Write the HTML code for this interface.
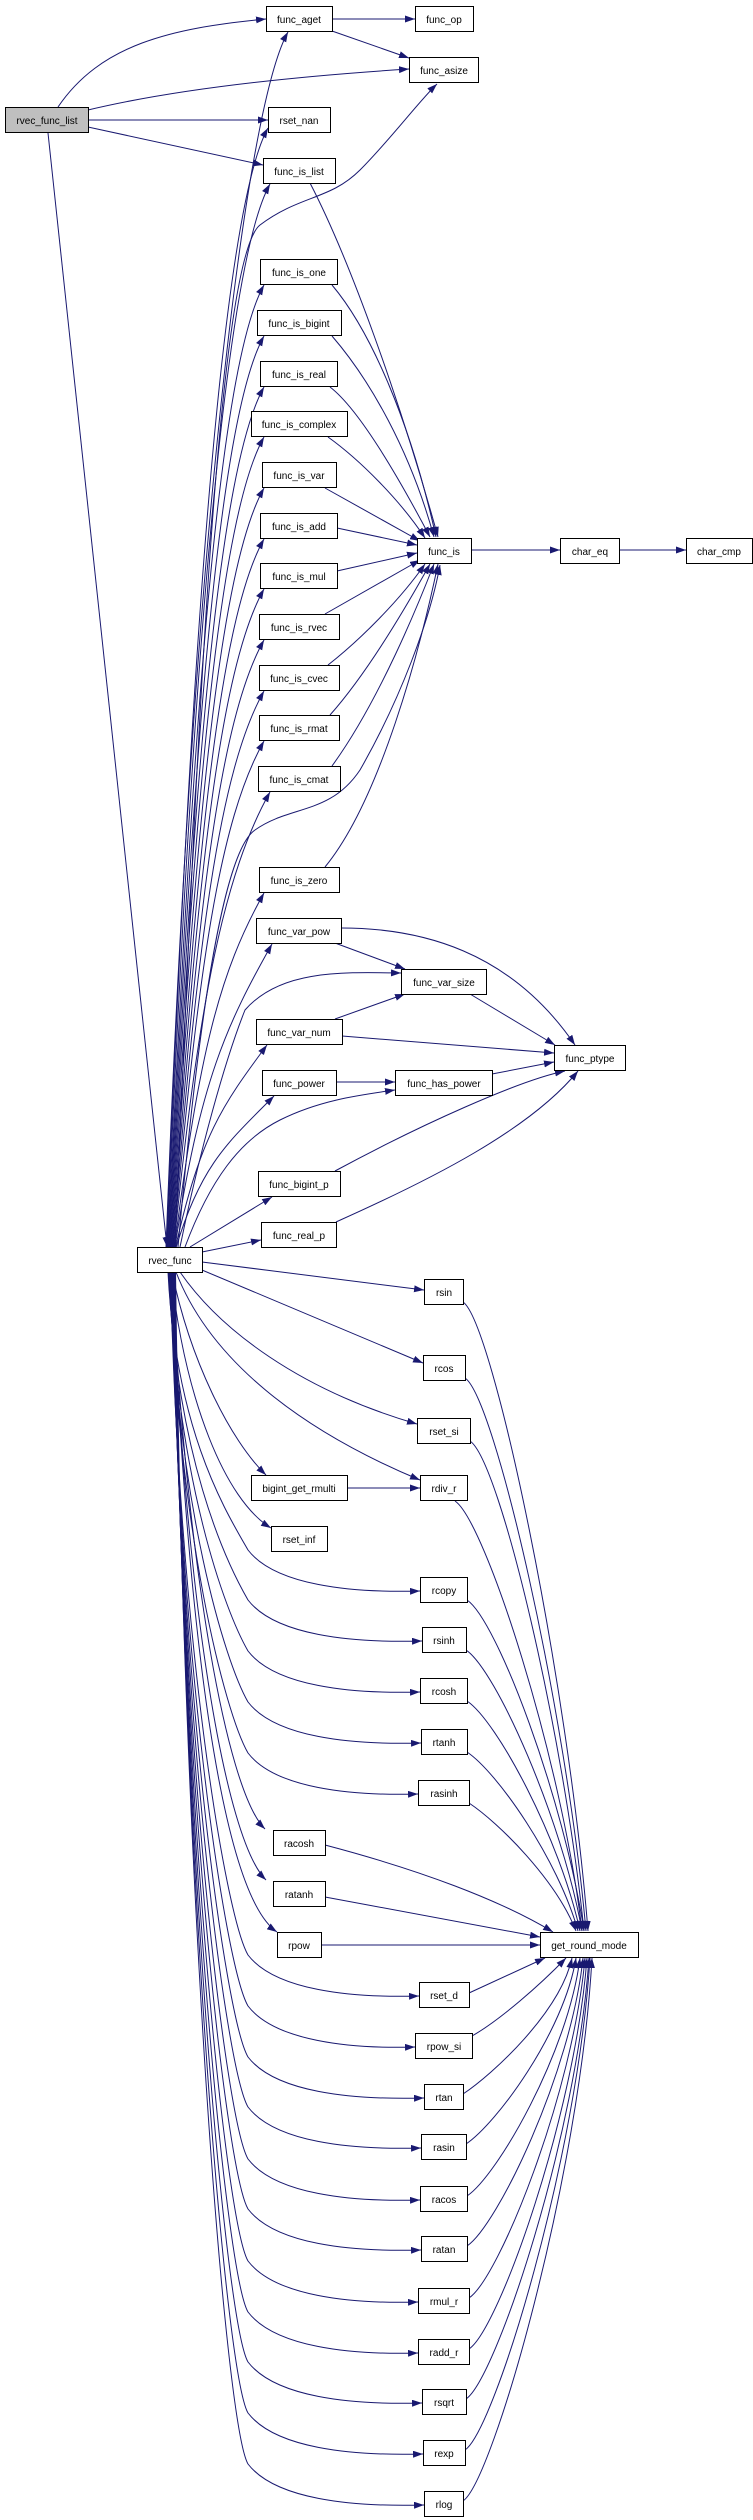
<!DOCTYPE html>
<html><head><meta charset="utf-8">
<style>
html,body{margin:0;padding:0;background:#fff;}
svg{display:block;}
text{font-family:"Liberation Sans",sans-serif;font-size:10px;fill:#000;}
</style></head>
<body>
<svg id="g" width="753" height="2520" viewBox="0 0 753 2520" xmlns="http://www.w3.org/2000/svg">
<defs>
<marker id="a" markerUnits="userSpaceOnUse" markerWidth="11" markerHeight="8" refX="10" refY="3.5" orient="auto">
<path d="M0,0 L10,3.5 L0,7 z" fill="#191970"/>
</marker>
</defs>
<g id="edges" fill="none" stroke="#191970" stroke-width="1"></g>
<g id="nodes" stroke="#000" stroke-width="1" fill="#fff">
<rect x="5.5" y="107.5" width="83" height="25" fill="#bfbfbf"/>
<rect x="266.5" y="6.5" width="66" height="25"/>
<rect x="415.5" y="6.5" width="58" height="25"/>
<rect x="409.5" y="57.5" width="69" height="25"/>
<rect x="268.5" y="107.5" width="62" height="25"/>
<rect x="263.5" y="158.5" width="72" height="25"/>
<rect x="260.5" y="259.5" width="77" height="25"/>
<rect x="257.5" y="310.5" width="84" height="25"/>
<rect x="260.5" y="361.5" width="77" height="25"/>
<rect x="251.5" y="411.5" width="96" height="25"/>
<rect x="262.5" y="462.5" width="74" height="25"/>
<rect x="260.5" y="513.5" width="77" height="25"/>
<rect x="260.5" y="563.5" width="77" height="25"/>
<rect x="259.5" y="614.5" width="80" height="25"/>
<rect x="259.5" y="665.5" width="80" height="25"/>
<rect x="259.5" y="715.5" width="80" height="25"/>
<rect x="258.5" y="766.5" width="82" height="25"/>
<rect x="259.5" y="867.5" width="80" height="25"/>
<rect x="417.5" y="538.5" width="54" height="25"/>
<rect x="560.5" y="538.5" width="59" height="25"/>
<rect x="686.5" y="538.5" width="66" height="25"/>
<rect x="256.5" y="918.5" width="85" height="25"/>
<rect x="401.5" y="969.5" width="85" height="25"/>
<rect x="256.5" y="1019.5" width="86" height="25"/>
<rect x="554.5" y="1045.5" width="71" height="25"/>
<rect x="262.5" y="1070.5" width="74" height="25"/>
<rect x="395.5" y="1070.5" width="97" height="25"/>
<rect x="258.5" y="1171.5" width="82" height="25"/>
<rect x="261.5" y="1222.5" width="75" height="25"/>
<rect x="137.5" y="1247.5" width="65" height="25"/>
<rect x="424.5" y="1279.5" width="39" height="25"/>
<rect x="423.5" y="1355.5" width="42" height="25"/>
<rect x="417.5" y="1418.5" width="53" height="25"/>
<rect x="251.5" y="1475.5" width="96" height="25"/>
<rect x="420.5" y="1475.5" width="47" height="25"/>
<rect x="271.5" y="1526.5" width="56" height="25"/>
<rect x="420.5" y="1577.5" width="47" height="25"/>
<rect x="422.5" y="1627.5" width="44" height="25"/>
<rect x="420.5" y="1678.5" width="47" height="25"/>
<rect x="421.5" y="1729.5" width="46" height="25"/>
<rect x="418.5" y="1780.5" width="51" height="25"/>
<rect x="273.5" y="1830.5" width="52" height="25"/>
<rect x="273.5" y="1881.5" width="52" height="25"/>
<rect x="277.5" y="1932.5" width="44" height="25"/>
<rect x="540.5" y="1932.5" width="98" height="25"/>
<rect x="419.5" y="1982.5" width="50" height="25"/>
<rect x="415.5" y="2033.5" width="57" height="25"/>
<rect x="424.5" y="2084.5" width="39" height="25"/>
<rect x="421.5" y="2134.5" width="45" height="25"/>
<rect x="420.5" y="2186.5" width="47" height="25"/>
<rect x="421.5" y="2236.5" width="46" height="25"/>
<rect x="418.5" y="2288.5" width="51" height="25"/>
<rect x="418.5" y="2339.5" width="51" height="25"/>
<rect x="422.5" y="2389.5" width="44" height="25"/>
<rect x="423.5" y="2440.5" width="42" height="25"/>
<rect x="424.5" y="2491.5" width="39" height="25"/>
</g>
<g text-anchor="middle">
<text x="47" y="124">rvec_func_list</text>
<text x="299" y="23">func_aget</text>
<text x="444" y="23">func_op</text>
<text x="444" y="74">func_asize</text>
<text x="299" y="124">rset_nan</text>
<text x="299" y="175">func_is_list</text>
<text x="299" y="276">func_is_one</text>
<text x="299" y="327">func_is_bigint</text>
<text x="299" y="378">func_is_real</text>
<text x="299" y="428">func_is_complex</text>
<text x="299" y="479">func_is_var</text>
<text x="299" y="530">func_is_add</text>
<text x="299" y="580">func_is_mul</text>
<text x="299" y="631">func_is_rvec</text>
<text x="299" y="682">func_is_cvec</text>
<text x="299" y="732">func_is_rmat</text>
<text x="299" y="783">func_is_cmat</text>
<text x="299" y="884">func_is_zero</text>
<text x="444" y="555">func_is</text>
<text x="590" y="555">char_eq</text>
<text x="719" y="555">char_cmp</text>
<text x="299" y="935">func_var_pow</text>
<text x="444" y="986">func_var_size</text>
<text x="299" y="1036">func_var_num</text>
<text x="590" y="1062">func_ptype</text>
<text x="299" y="1087">func_power</text>
<text x="444" y="1087">func_has_power</text>
<text x="299" y="1188">func_bigint_p</text>
<text x="299" y="1239">func_real_p</text>
<text x="170" y="1264">rvec_func</text>
<text x="444" y="1296">rsin</text>
<text x="444" y="1372">rcos</text>
<text x="444" y="1435">rset_si</text>
<text x="299" y="1492">bigint_get_rmulti</text>
<text x="444" y="1492">rdiv_r</text>
<text x="299" y="1543">rset_inf</text>
<text x="444" y="1594">rcopy</text>
<text x="444" y="1644">rsinh</text>
<text x="444" y="1695">rcosh</text>
<text x="444" y="1746">rtanh</text>
<text x="444" y="1797">rasinh</text>
<text x="299" y="1847">racosh</text>
<text x="299" y="1898">ratanh</text>
<text x="299" y="1949">rpow</text>
<text x="589" y="1949">get_round_mode</text>
<text x="444" y="1999">rset_d</text>
<text x="444" y="2050">rpow_si</text>
<text x="444" y="2101">rtan</text>
<text x="444" y="2151">rasin</text>
<text x="444" y="2203">racos</text>
<text x="444" y="2253">ratan</text>
<text x="444" y="2305">rmul_r</text>
<text x="444" y="2356">radd_r</text>
<text x="444" y="2406">rsqrt</text>
<text x="444" y="2457">rexp</text>
<text x="444" y="2508">rlog</text>
</g>
</svg>
<script>
var E=[];
function p(d){E.push(d);}
p("M58,107 C100,45 170,28 266,19");
p("M88,110 C180,88 300,76 409,69");
p("M88,120 L268,120");
p("M88,127 L263,165");
p("M48,133 L167,1247");
p("M332,19 L415,19");
p("M332,31 L409,58");
var fan=[[288,32],[268,128],[270,184],[264,285],[264,336],[264,387],[264,437],[264,488],[264,539],[264,589],[264,640],[264,691],[264,741],[270,792],[264,893],[272,944],[267,1045],[274,1096]];
fan.forEach(function(e,i){var sx=166+i*0.6;var dy=1247-e[1];
p("M"+sx+",1247 C"+(sx+25)+","+(e[1]+dy*0.45)+" "+(e[0]-45)+","+(e[1]+Math.min(80,dy*0.3))+" "+e[0]+","+e[1]);});
p("M175,1247 C195,800 215,260 260,225 C300,195 330,200 360,170 C390,140 420,100 437,84");
p("M178,1247 C200,1000 225,850 255,830 C290,805 330,815 360,770 C400,700 430,620 440,565");
p("M180,1247 C200,1150 225,1060 245,1010 C280,970 340,972 401,973");
p("M185,1247 C210,1180 240,1140 280,1120 C320,1100 360,1095 395,1090");
p("M190,1247 L272,1197");
p("M202,1252 L261,1240");
p("M310,183 C350,260 400,400 438,537");
p("M332,285 C370,330 410,420 436,537");
p("M332,336 C370,380 410,450 434,537");
p("M330,387 C360,410 400,480 430,537");
p("M328,437 C360,460 400,500 425,538");
p("M325,488 L420,541");
p("M337,528 L417,545");
p("M337,571 L417,553");
p("M325,614 L420,560");
p("M328,665 C360,640 400,600 425,564");
p("M330,715 C370,670 410,600 430,564");
p("M332,766 C380,700 420,600 434,564");
p("M325,867 C380,800 420,650 438,564");
p("M471,550 L560,550");
p("M619,550 L686,550");
p("M335,943 L405,969");
p("M341,928 C420,928 510,950 575,1045");
p("M470,994 L555,1045");
p("M342,1036 L554,1053");
p("M335,1019 L405,994");
p("M336,1082 L395,1082");
p("M492,1074 L554,1062");
p("M335,1171 C420,1125 520,1080 565,1071");
p("M336,1222 C430,1180 530,1130 578,1071");
p("M202,1262 L424,1290");
p("M202,1270 L423,1363");
p("M180,1272 C220,1330 300,1390 417,1424");
p("M176,1272 C210,1360 300,1430 420,1480");
p("M172,1272 C190,1360 230,1440 266,1475");
p("M171,1272 C185,1400 225,1500 271,1528");
p("M347,1488 L420,1488");
var low=[[420,1590],[422,1640],[420,1691],[421,1742],[418,1793],[419,1995],[415,2046],[424,2097],[421,2147],[420,2199],[421,2249],[418,2301],[418,2352],[422,2402],[423,2453],[424,2504]];
low.forEach(function(t,i){var sx=168+i*0.5;var cy=t[1];
p("M"+sx+",1272 C"+(sx+8)+","+((1272+cy)/2)+" 225,"+(cy-80)+" 248,"+(cy-40)+" C275,"+(cy-5)+" 350,"+(cy+3)+" "+t[0]+","+(cy+1));});
p("M172,1272 C185,1550 225,1790 265,1829");
p("M172,1272 C185,1600 225,1840 266,1880");
p("M172,1272 C190,1700 230,1900 277,1932");
var up=[[463,1302,588],[465,1378,586],[470,1441,584],[455,1501,582],[467,1600,584],[466,1650,582],[467,1701,580],[467,1752,578],[469,1803,576]];
up.forEach(function(u){var c2=1931-(1931-u[1])*0.4;p("M"+u[0]+","+u[1]+" C"+(u[0]+30)+","+(u[1]+20)+" "+(u[2]-20)+","+c2+" "+u[2]+",1931");});
p("M325,1845 C420,1870 500,1900 553,1932");
p("M325,1897 L540,1937");
p("M321,1945 L540,1945");
p("M469,1993 L545,1958");
p("M472,2036 C500,2020 540,1985 566,1958");
var dn=[[463,2094,572],[466,2144,576],[467,2196,580],[467,2246,583],[469,2298,585],[469,2349,587],[466,2399,589],[465,2450,590],[463,2501,592]];
dn.forEach(function(u){var c2=1958+(u[1]-1958)*0.4;p("M"+u[0]+","+u[1]+" C"+(u[0]+30)+","+(u[1]-20)+" "+(u[2]-12)+","+c2+" "+u[2]+",1958");});
var g=document.getElementById("edges"),s="";
E.forEach(function(d){s+='<path d="'+d+'" marker-end="url(#a)"/>';});
g.innerHTML=s;
</script>
</body></html>
